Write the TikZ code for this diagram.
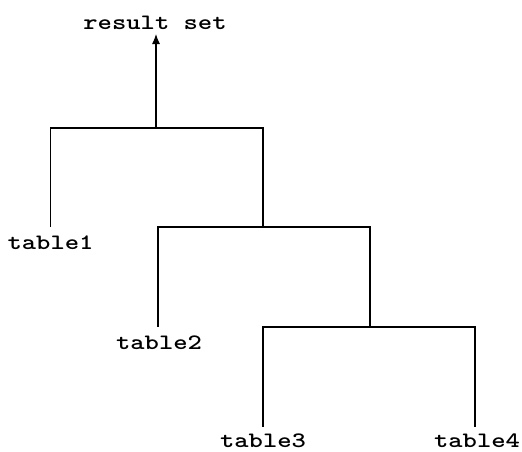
\documentclass[tikz,border=0pt]{standalone}
\usepackage{fontspec}
\usepackage{graphicx}
\usetikzlibrary{arrows.meta}
\newcommand\widetxt[1]{\scalebox{1.24}[1]{#1}}
\begin{document}
\begin{tikzpicture}[x=1pt,y=-1pt,
  lbl/.style={font=\ttfamily\bfseries\fontsize{22}{26}\selectfont, inner sep=0pt, anchor=base},
  wire/.style={line width=1.1pt, line cap=rect},
  arr/.style={line width=1.1pt, -{Latex[length=10pt,width=8pt]}}]
\useasboundingbox (0,0) rectangle (522,451);
\node[lbl] (rs) at (155,29) {\widetxt{result set}};
\node[lbl] (t1) at (50.5,249) {\widetxt{table1}};
\node[lbl] (t2) at (159,349) {\widetxt{table2}};
\node[lbl] (t3) at (263,447) {\widetxt{table3}};
\node[lbl] (t4) at (477,447) {\widetxt{table4}};
\coordinate (n1) at (156,128);
\coordinate (j2) at (263,227);
\coordinate (j3) at (370,327);
\coordinate (rsend) at (156,34);
\coordinate (t1top) at (50.5,226);
\coordinate (t2top) at (158,326);
\coordinate (t3top) at (263,426);
\coordinate (t4top) at (475,426);
\draw[arr] (n1) -- (rsend);
\draw[wire] (t1top) |- (n1) -| (j2);
\draw[wire] (t2top) |- (j2) -| (j3);
\draw[wire] (t3top) |- (j3) -| (t4top);
\end{tikzpicture}
\end{document}
